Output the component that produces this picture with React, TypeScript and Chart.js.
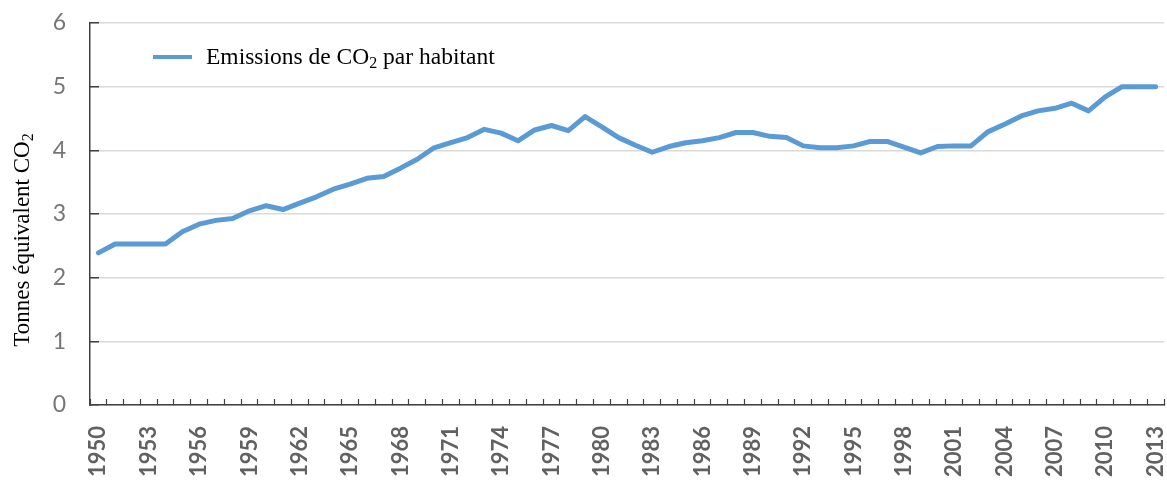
import React, { useEffect, useRef } from 'react';
import { Chart, registerables } from 'chart.js';

Chart.register(...registerables);

const years = [
  '1950', '1951', '1952', '1953', '1954', '1955', '1956', '1957', '1958', '1959',
  '1960', '1961', '1962', '1963', '1964', '1965', '1966', '1967', '1968', '1969',
  '1970', '1971', '1972', '1973', '1974', '1975', '1976', '1977', '1978', '1979',
  '1980', '1981', '1982', '1983', '1984', '1985', '1986', '1987', '1988', '1989',
  '1990', '1991', '1992', '1993', '1994', '1995', '1996', '1997', '1998', '1999',
  '2000', '2001', '2002', '2003', '2004', '2005', '2006', '2007', '2008', '2009',
  '2010', '2011', '2012', '2013',
];

const emissions = [
  2.39, 2.53, 2.53, 2.53, 2.53, 2.72, 2.84, 2.90, 2.93, 3.05,
  3.13, 3.07, 3.17, 3.27, 3.39, 3.47, 3.56, 3.59, 3.72, 3.86,
  4.04, 4.12, 4.20, 4.33, 4.27, 4.15, 4.32, 4.39, 4.31, 4.53,
  4.37, 4.20, 4.08, 3.97, 4.06, 4.12, 4.15, 4.20, 4.28, 4.28,
  4.22, 4.20, 4.07, 4.04, 4.04, 4.07, 4.14, 4.14, 4.05, 3.96,
  4.06, 4.07, 4.07, 4.29, 4.41, 4.54, 4.62, 4.66, 4.74, 4.62,
  4.84, 5.00, 5.00, 5.00,
];

const labeledYears = [
  '1950', '1953', '1956', '1959', '1962', '1965', '1968', '1971', '1974', '1977',
  '1980', '1983', '1986', '1989', '1992', '1995', '1998', '2001', '2004', '2007',
  '2010', '2013',
];

const yMin = 0;
const yMax = 6;
const yStep = 1;

// Text parts: [normal, subscript, normal]
const legendParts = ['Emissions de CO', '2', ' par habitant'];
const yTitleParts = ['Tonnes équivalent CO', '2', ''];

const LINE_COLOR = '#5b9bd5';
const SERIF = '"Liberation Serif", "Times New Roman", serif';
const SANS = 'Lato, "Open Sans", sans-serif';

function drawSubText(ctx: CanvasRenderingContext2D, parts: string[], x: number, y: number, size: number) {
  ctx.textAlign = 'left';
  ctx.textBaseline = 'alphabetic';
  ctx.font = `${size}px ${SERIF}`;
  ctx.fillText(parts[0], x, y);
  let cx = x + ctx.measureText(parts[0]).width;
  const sub = Math.round(size * 0.68);
  ctx.font = `${sub}px ${SERIF}`;
  ctx.fillText(parts[1], cx, y + size * 0.18);
  cx += ctx.measureText(parts[1]).width;
  ctx.font = `${size}px ${SERIF}`;
  ctx.fillText(parts[2], cx, y);
  return cx + ctx.measureText(parts[2]).width - x;
}

function measureSub(ctx: CanvasRenderingContext2D, parts: string[], size: number) {
  ctx.font = `${size}px ${SERIF}`;
  let w = ctx.measureText(parts[0]).width + ctx.measureText(parts[2]).width;
  ctx.font = `${Math.round(size * 0.68)}px ${SERIF}`;
  w += ctx.measureText(parts[1]).width;
  return w;
}

const textPlugin = {
  id: 'customText',
  afterDraw(chart: any) {
    const { ctx, chartArea } = chart;
    ctx.save();
    // legend
    const ly = chartArea.top + 34;
    ctx.strokeStyle = LINE_COLOR;
    ctx.lineWidth = 4;
    ctx.lineCap = 'butt';
    ctx.beginPath();
    ctx.moveTo(chartArea.left + 63, ly);
    ctx.lineTo(chartArea.left + 102, ly);
    ctx.stroke();
    ctx.fillStyle = '#000000';
    drawSubText(ctx, legendParts, chartArea.left + 116, ly + 7, 23.5);
    // y title
    const size = 23;
    const w = measureSub(ctx, yTitleParts, size);
    ctx.translate(29, 240);
    ctx.rotate(-Math.PI / 2);
    drawSubText(ctx, yTitleParts, -w / 2, 0, size);
    ctx.restore();
  },
};

export default function App() {
  const canvasRef = useRef<HTMLCanvasElement | null>(null);

  useEffect(() => {
    document.body.style.margin = '0';
    const canvas = canvasRef.current;
    if (!canvas) return;
    const chart = new Chart(canvas, {
      type: 'line',
      data: {
        labels: years,
        datasets: [
          {
            label: 'Emissions de CO₂ par habitant',
            data: emissions,
            borderColor: LINE_COLOR,
            backgroundColor: LINE_COLOR,
            borderWidth: 5,
            pointRadius: 0,
            pointHoverRadius: 0,
            tension: 0,
            borderJoinStyle: 'round',
            borderCapStyle: 'round',
          },
        ],
      },
      options: {
        animation: false,
        responsive: true,
        maintainAspectRatio: false,
        layout: { padding: { top: 23, right: 3, left: 0, bottom: 0 } },
        plugins: {
          legend: { display: false },
          tooltip: { enabled: false },
        },
        scales: {
          x: {
            type: 'category',
            offset: true,
            grid: {
              offset: true,
              drawOnChartArea: false,
              drawTicks: true,
              tickLength: -6,
              tickColor: '#404040',
              tickWidth: 1.2,
            },
            border: { display: true, color: '#404040', width: 1.5 },
            ticks: {
              autoSkip: false,
              maxRotation: 90,
              minRotation: 90,
              padding: 27,
              color: '#616161',
              font: { family: SANS, size: 22, weight: 'bold' },
              callback: function (this: any, _v: any, index: number) {
                const lab = years[index];
                return labeledYears.includes(lab) ? lab : '';
              },
            },
            afterFit: (s: any) => {
              s.height = 75;
              s.paddingLeft = 0;
              s.paddingRight = 0;
            },
          },
          y: {
            min: yMin,
            max: yMax,
            grid: {
              color: '#d9d9d9',
              lineWidth: 1.5,
              drawTicks: true,
              tickLength: -9,
              tickColor: '#404040',
              tickWidth: 1.5,
            },
            border: { display: true, color: '#404040', width: 1.5 },
            ticks: {
              stepSize: yStep,
              padding: 33,
              color: '#767676',
              font: { family: SANS, size: 23 },
            },
            afterFit: (s: any) => {
              s.width = 90;
              s.paddingTop = 0;
              s.paddingBottom = 0;
            },
          },
        },
      },
      plugins: [textPlugin],
    });
    return () => chart.destroy();
  }, []);

  return (
    <div style={{ position: 'relative', width: 1167, height: 480 }}>
      <canvas ref={canvasRef} />
    </div>
  );
}
